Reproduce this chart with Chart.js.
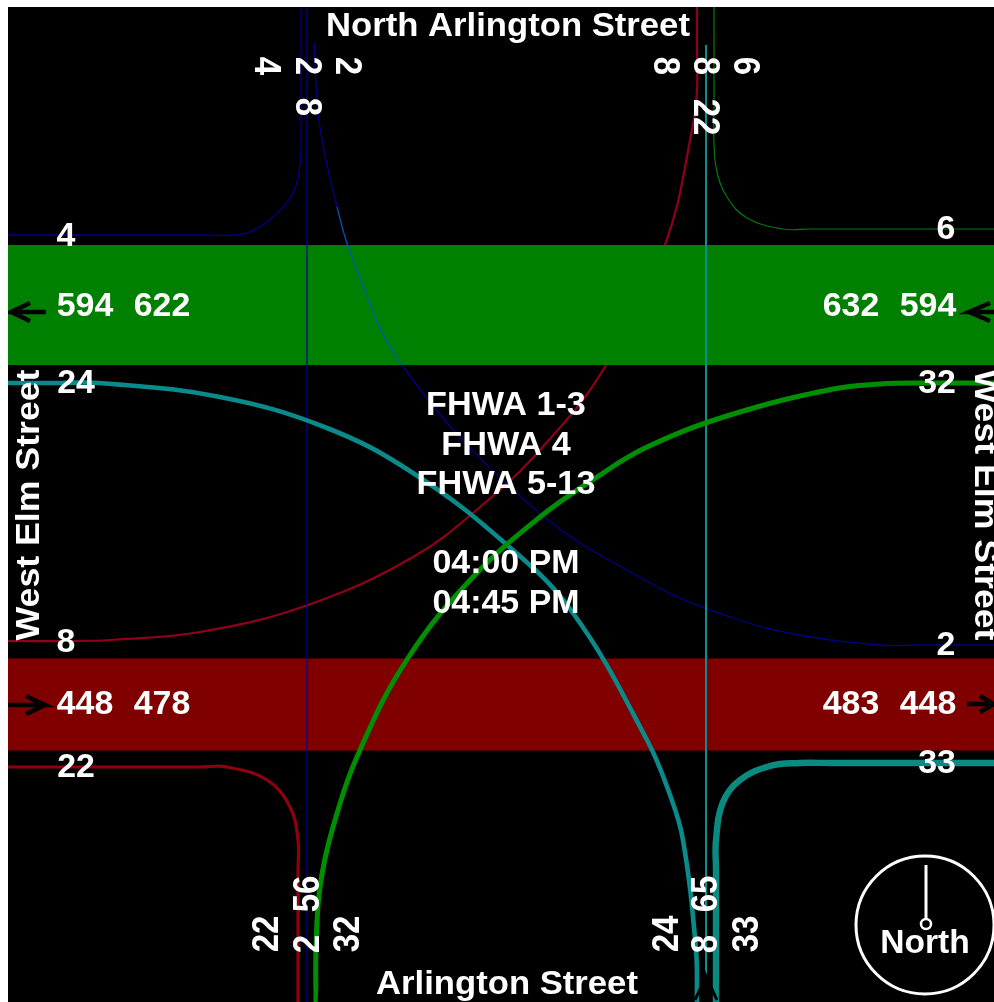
<!DOCTYPE html>
<html>
<head>
<meta charset="utf-8">
<title>West Elm Street / Arlington Street turning counts</title>
<script src="https://cdn.jsdelivr.net/npm/chart.js@4"></script>
<style>
  html, body { margin: 0; padding: 0; background: #fff; }
  #tmc { position: absolute; left: 8px; top: 7px; background: #000; }
</style>
</head>
<body>
<canvas id="tmc" width="986" height="995"></canvas>
<script>
// counts, same order as the position lists further down
var westCounts = [4, 594, 622, 24, 8, 448, 478, 22];
var eastCounts = [6, 632, 594, 32, 2, 483, 448, 33];
var northCounts = [4, 2, 2, 8, 8, 8, 6, 22];
var southCounts = [22, 2, 56, 32, 24, 8, 65, 33];
var topStreet = 'North Arlington Street';
var bottomStreet = 'Arlington Street';
var sideStreet = 'West Elm Street';
var classes = ['FHWA 1-3', 'FHWA 4', 'FHWA 5-13'];
var times = ['04:00 PM', '04:45 PM'];

// movement paths (x, y in diagram units)
var nwTurn = [[8,235],[205,235],[232,235],[250,232],[273,217],[293,193],[300,165],[301,135],[301,110],[301,7]];
var nThruWest = [[307,7],[307,1002]];
var neCurve = [[314,42],[317,100],[322,140],[337,207],[353,260],[402,365],[530,505],[650,583],[730,617],[800,635],[880,645],[920,645],[994,645]];
var swToN = [[8,641],[70,641],[110,640],[200,632],[308,605],[413,557],[480,507],[540,450],[605,367],[665,245],[693,125],[697,90],[697,60],[697,7]];
var neTurn = [[994,229],[810,229],[783,229],[747,218],[727,197],[717,172],[714,145],[714,115],[714,7]];
var nThruEast = [[706,45],[706,1002]];
var wToS = [[8,383],[60,383],[100,383],[220,397],[327,428],[413,473],[507,545],[573,613],[647,740],[670,795],[683,840],[696,950],[697,1002]];
var eToS = [[994,383],[920,383],[880,384],[833,389],[730,415],[647,447],[597,477],[540,517],[473,577],[408,658],[360,750],[333,827],[320,887],[316,950],[316,1002]];
var swTurn = [[8,767],[200,767],[227,767],[267,780],[290,807],[298,840],[298,870],[298,1002]];
var seTurn = [[994,763],[830,763],[800,763],[770,766],[740,780],[723,802],[716,840],[716,870],[716,1002]];

// road bands, width follows the bigger approach count
var greenBand = [[8,305],[994,305]];
var redBand = [[8,704.5],[994,704.5]];
var bandScale = 0.19;

var arrowWest = [[46,312],[11,312],[30,303],[11,312],[30,321]];
var arrowEastGreen = [[994,312],[969,312],[990,303],[969,312],[990,321]];
var arrowWestRed = [[8,705],[45,705],[26,696],[45,705],[26,714]];
var arrowEastRed = [[967,704],[994,704],[980,696],[994,704],[980,712]];
var arrowSouth = [[695,1000],[706,976],[717,1000],[706,976],[706,1002]];
var arrowSouthGreen = [[322,965],[319,1002]];

var compassRing = [[925,925]];
var compassNeedle = [[926,865],[926,918]];
var compassHub = [[926,924]];

function pts(list) {
  return list.map(function (p) { return { x: p[0], y: p[1] }; });
}

function path(list, color, width, tension) {
  return { data: pts(list), showLine: true, borderColor: color, borderWidth: width, tension: tension || 0, pointRadius: 0 };
}

function dot(list, radius, border, fill, width) {
  return { data: pts(list), showLine: false, pointRadius: radius, pointBorderColor: border, pointBackgroundColor: fill, pointBorderWidth: width };
}

var navyCurve = path(neCurve, '#000088', 1.3, 0.4);
// the thin navy line reads brighter where it crosses the green band
navyCurve.segment = {
  borderColor: function (ctx) {
    return ctx.p0.parsed.y < 365 && ctx.p1.parsed.y > 245 && ctx.p0.parsed.y > 200 ? '#0058b0' : undefined;
  }
};

// bottom layer first
var layers = [
  path(swToN, '#90001a', 2.2, 0.4),
  path(greenBand, '#008000', Math.max(632, 622) * bandScale),
  path(redBand, '#800000', Math.max(483, 478) * bandScale),
  path(nwTurn, '#000088', 1.3, 0.4),
  path(nThruWest, '#000099', 1.3),
  navyCurve,
  path(neTurn, '#007a10', 1.2, 0.4),
  path(nThruEast, '#0a8f8f', 2),
  path(swTurn, '#90000f', 3.2, 0.4),
  path(wToS, '#0a8a8a', 4.6, 0.4),
  path(eToS, '#008f00', 5, 0.4),
  path(seTurn, '#0a8a80', 6.4, 0.4),
  path(arrowWest, '#000', 4.5),
  path(arrowEastGreen, '#000', 4.5),
  path(arrowWestRed, '#000', 4.5),
  path(arrowEastRed, '#000', 4.5),
  path(arrowSouth, '#000', 3),
  path(arrowSouthGreen, '#000', 3),
  dot(compassRing, 69, '#fff', 'rgba(0,0,0,0)', 3),
  path(compassNeedle, '#fff', 3),
  dot(compassHub, 5, '#fff', '#000', 2.5)
];
layers.forEach(function (d, i) { d.order = layers.length - i; });

var westPos = [[66,236],[85,306],[162,306],[76,383],[66,642],[85,704],[162,704],[76,767]];
var eastPos = [[946,229],[851,306],[928,306],[937,383],[946,645],[851,704],[928,704],[937,763]];
var northPos = [[266,66],[307,66],[347,66],[307,107],[665,66],[705,66],[745,66],[705,117]];
var southPos = [[267,934],[308,944],[308,894],[348,934],[667,934],[706,944],[706,894],[747,934]];
var classPos = [[506,405],[506,445],[506,484]];
var timePos = [[506,563],[506,603]];

var font = 'bold 32px "Liberation Sans", Arial, sans-serif';

var labelPlugin = {
  id: 'labels',
  afterDatasetsDraw: function (chart) {
    var c = chart.ctx, sx = chart.scales.x, sy = chart.scales.y;
    function put(text, x, y, angle, wide, tall) {
      c.save();
      c.translate(sx.getPixelForValue(x), sy.getPixelForValue(y));
      c.rotate(angle || 0);
      c.scale(wide || 1.06, tall || 1.04);
      c.font = font;
      c.fillStyle = '#fff';
      c.textAlign = 'center';
      c.textBaseline = 'middle';
      c.fillText(String(text), 0, 1);
      c.restore();
    }
    westCounts.forEach(function (v, i) { put(v, westPos[i][0], westPos[i][1]); });
    eastCounts.forEach(function (v, i) { put(v, eastPos[i][0], eastPos[i][1]); });
    northCounts.forEach(function (v, i) { put(v, northPos[i][0], northPos[i][1], Math.PI / 2, 1.03, 1.13); });
    southCounts.forEach(function (v, i) { put(v, southPos[i][0], southPos[i][1], -Math.PI / 2, 1.03, 1.13); });
    classes.forEach(function (v, i) { put(v, classPos[i][0], classPos[i][1], 0, 1.07); });
    times.forEach(function (v, i) { put(v, timePos[i][0], timePos[i][1], 0, 1.06); });
    put(topStreet, 508, 26, 0, 1.083);
    put(bottomStreet, 507, 984, 0, 1.083);
    put(sideStreet, 29, 505, -Math.PI / 2, 1.115, 1.05);
    put(sideStreet, 985, 505, Math.PI / 2, 1.115, 1.05);
    put('North', 925, 943, 0, 1.05);
  }
};

new Chart(document.getElementById('tmc'), {
  type: 'scatter',
  data: { datasets: layers },
  plugins: [labelPlugin],
  options: {
    responsive: false,
    animation: false,
    devicePixelRatio: 1,
    layout: { padding: 0, autoPadding: false },
    plugins: { legend: { display: false }, tooltip: { enabled: false } },
    scales: {
      x: { type: 'linear', min: 8, max: 994, display: false },
      y: { type: 'linear', min: 7, max: 1002, reverse: true, display: false }
    }
  }
});
</script>
</body>
</html>
